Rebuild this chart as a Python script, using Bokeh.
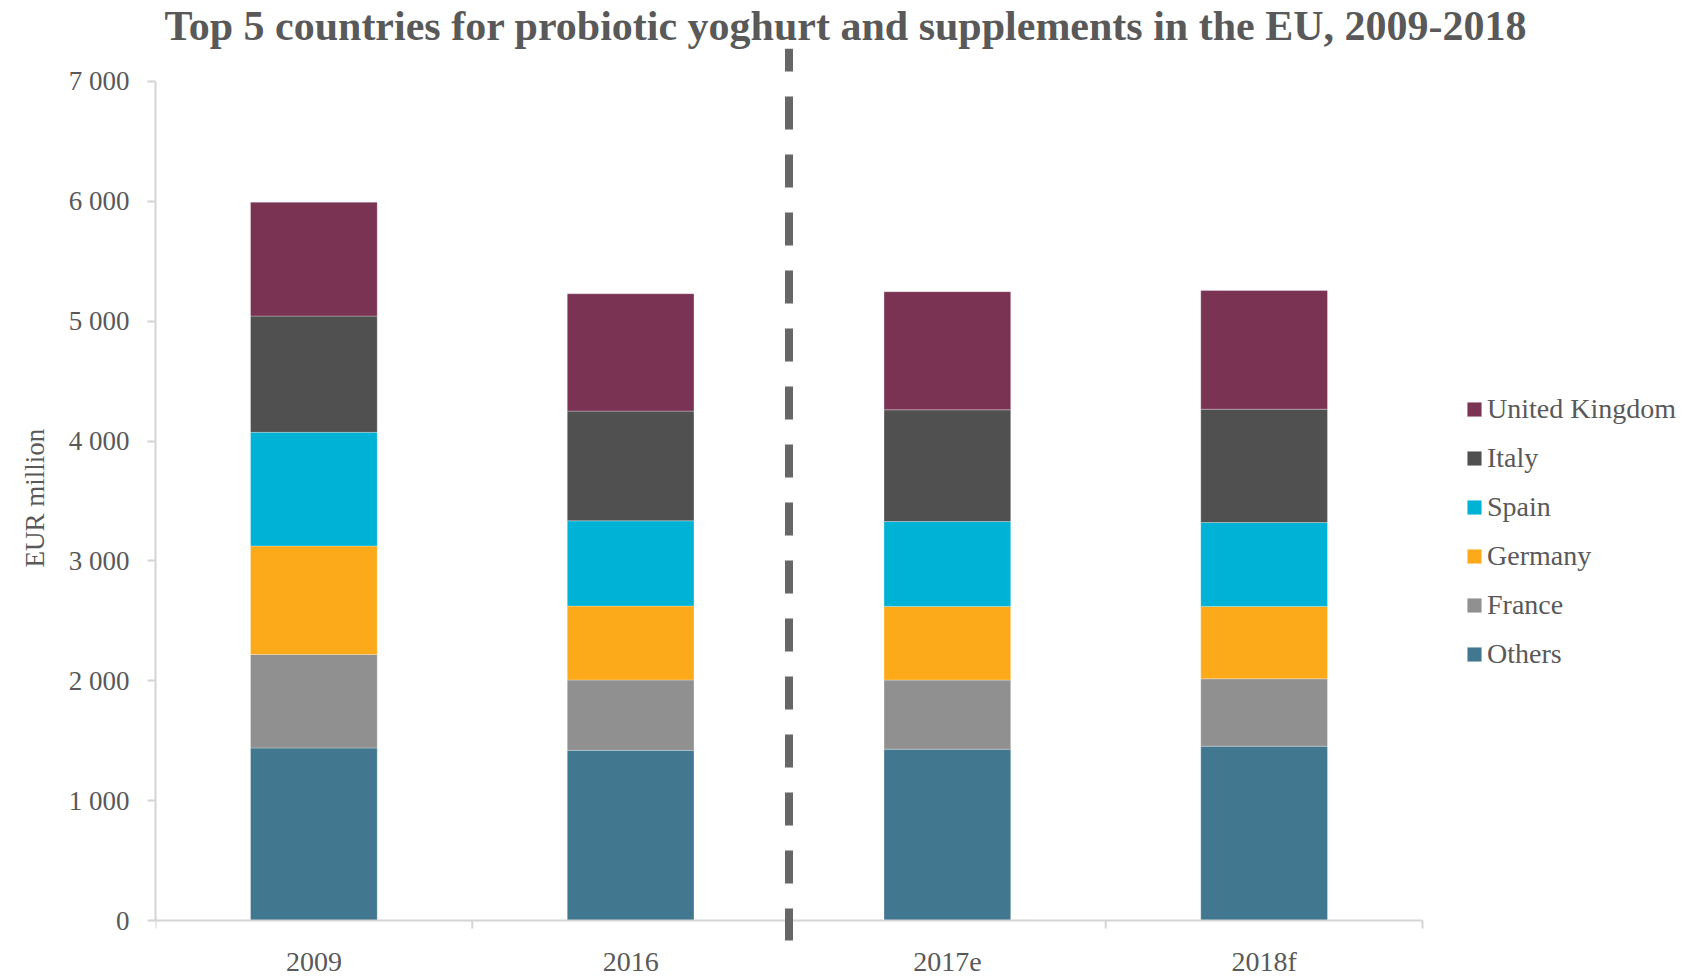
from bokeh.plotting import figure
from bokeh.models import Range1d, FixedTicker, Legend, LegendItem, ColumnDataSource, Title
from bokeh.core.properties import value
from bokeh.embed import file_html
from bokeh.resources import INLINE

# ---- data ----
categories = ["2009", "2016", "2017e", "2018f"]
series = ["Others", "France", "Germany", "Spain", "Italy", "United Kingdom"]
others = [1440, 1420, 1430, 1455]
france = [780, 587, 576, 562]
germany = [905, 617, 615, 604]
spain = [948, 711, 708, 700]
italy = [970, 915, 932, 945]
uk = [950, 979, 985, 990]
y_ticks = [0, 1000, 2000, 3000, 4000, 5000, 6000, 7000]
split_after = "2016"   # dashed divider between actual and forecast years

colors = ["#41778F", "#909090", "#FDAA1A", "#00B2D6", "#505050", "#7B3354"]
FONT = "Liberation Serif"
TXT = "#595959"
AX = "#D4D4D4"

# ---- layout (pixels) ----
W, H = 1692, 978
LEFT = 155            # value axis position
TOP = 47              # frame top (just under the title)
ZERO_PX, TOP_TICK_PX = 920, 80   # screen rows of 0 and of the last tick
AXIS_RIGHT_PX = 1422  # end of category axis
n = len(categories)
px_per_unit = (ZERO_PX - TOP_TICK_PX) / y_ticks[-1]
px_per_cat = (AXIS_RIGHT_PX - LEFT) / n
Y_HI = (ZERO_PX - TOP) / px_per_unit
Y_LO = (ZERO_PX - H) / px_per_unit
X_HI = (W - LEFT) / px_per_cat
TICK = 8 / px_per_unit
DIV_LO = -(20 / px_per_unit)     # divider overshoots the axis by 20 px

xs = [i + 0.5 for i in range(n)]
source = ColumnDataSource(dict(x=xs, **dict(zip(series, [others, france, germany, spain, italy, uk]))))

p = figure(width=W, height=H, x_range=Range1d(0, X_HI), y_range=Range1d(Y_LO, Y_HI),
           output_backend="svg", toolbar_location=None,
           min_border_left=LEFT, min_border_right=0, min_border_top=TOP, min_border_bottom=0)
p.outline_line_color = None
p.xgrid.visible = False
p.ygrid.visible = False
p.xaxis.visible = False

renderers = p.vbar_stack(series, x="x", width=0.4, color=colors, source=source,
                         line_color="white", line_width=0.8, line_alpha=0.35)

# category axis: line at 0, ticks at category boundaries, labels at centres
bounds = list(range(n + 1))
p.segment(x0=[0], y0=[0], x1=[n], y1=[0], line_color=AX, line_width=2)
p.segment(x0=bounds, y0=[0] * len(bounds), x1=bounds, y1=[-TICK] * len(bounds),
          line_color=AX, line_width=2)
p.text(x=xs, y=[0] * n, text=categories, y_offset=41, text_align="center", text_baseline="middle",
       text_font=value(FONT), text_font_size="28px", text_color=TXT)

# dashed divider (drawn top to bottom)
split_x = categories.index(split_after) + 1
p.segment(x0=[split_x], y0=[Y_HI], x1=[split_x], y1=[DIV_LO],
          line_color="#666666", line_width=8, line_dash="33 25", line_dash_offset=10)

# value axis
ya = p.yaxis[0]
ya.bounds = (y_ticks[0], y_ticks[-1])
ya.ticker = FixedTicker(ticks=y_ticks, minor_ticks=[])
ya.major_label_overrides = {t: f"{t:,}".replace(",", " ") for t in y_ticks}
ya.axis_line_color = AX
ya.axis_line_width = 2
ya.major_tick_line_color = AX
ya.major_tick_line_width = 2
ya.major_tick_out = 8
ya.major_tick_in = 0
ya.major_label_standoff = 18
ya.major_label_text_font = FONT
ya.major_label_text_font_size = "27px"
ya.major_label_text_color = TXT

# value-axis title, centred on the 0..7000 span
ylab = Title(text="EUR million", align="left", offset=411, standoff=32,
             text_font=FONT, text_font_size="27px", text_font_style="normal", text_color=TXT)
p.add_layout(ylab, "left")

# title
p.title.text = "Top 5 countries for probiotic yoghurt and supplements in the EU, 2009-2018"
p.title.align = "left"
p.title.offset = 9
p.title.standoff = 0
p.title.text_font = FONT
p.title.text_font_size = "42px"
p.title.text_font_style = "bold"
p.title.text_color = TXT

# legend
items = [LegendItem(label=s, renderers=[r]) for s, r in reversed(list(zip(series, renderers)))]
legend = Legend(items=items, location=(1310, 308), orientation="vertical")
legend.border_line_color = None
legend.background_fill_alpha = 0
legend.padding = 0
legend.margin = 0
legend.glyph_width = 18
legend.glyph_height = 18
legend.label_standoff = 4
legend.spacing = 17
legend.label_text_font = FONT
legend.label_text_font_size = "28px"
legend.label_text_color = TXT
p.add_layout(legend, "center")

open("out.html", "w").write(file_html(p, INLINE))
